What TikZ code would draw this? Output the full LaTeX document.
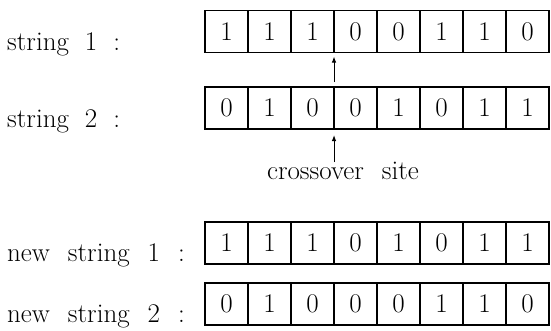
\documentclass[tikz,border=0pt]{standalone}
\usetikzlibrary{arrows.meta}
\newcommand\bigfont{\fontsize{27}{32}\selectfont}
\newcommand\wgap{\hspace{16pt}}
\newcommand\ngap{\hspace{18pt}}
\tikzset{
  bit/.style={draw, line width=1.1pt, minimum width=43pt, minimum height=42pt,
    inner sep=0pt, outer sep=0pt, anchor=north west, font=\bigfont},
  lbl/.style={anchor=base west, inner sep=0pt, font=\bigfont},
  arr/.style={-{Latex[length=6pt,width=4.5pt]}, line width=1pt}
}
\begin{document}
\begin{tikzpicture}[x=1pt,y=-1pt]
  \useasboundingbox (0,0) rectangle (551,330);

  % parent strings
  \foreach \b [count=\i] in {1,1,1,0,0,1,1,0}
    \node[bit] (a\i) at ({205+43*(\i-1)},10.5) {\b};
  \foreach \b [count=\i] in {0,1,0,0,1,0,1,1}
    \node[bit] (b\i) at ({205+43*(\i-1)},87) {\b};

  % offspring strings
  \foreach \b [count=\i] in {1,1,1,0,1,0,1,1}
    \node[bit] (c\i) at ({205+43*(\i-1)},222) {\b};
  \foreach \b [count=\i] in {0,1,0,0,0,1,1,0}
    \node[bit] (d\i) at ({205+43*(\i-1)},283) {\b};

  % labels
  \node[lbl] (la) at (7,50)  {string\wgap 1\wgap :};
  \node[lbl] (lb) at (7,127) {string\wgap 2\wgap :};
  \node[lbl] (lc) at (7,261) {new\ngap string\ngap 1\ngap :};
  \node[lbl] (ld) at (7,322) {new\ngap string\ngap 2\ngap :};

  % crossover site
  \node[font=\bigfont, anchor=base, inner sep=0pt] (site) at (343,179) {crossover\hspace{18pt}site};
  \coordinate (tail) at (334,162);

  \draw[arr] ([yshift=5pt]b3.north east) -- ([yshift=-4pt]a3.south east);
  \draw[arr] (tail) -- ([yshift=-6pt]b3.south east);
\end{tikzpicture}
\end{document}
